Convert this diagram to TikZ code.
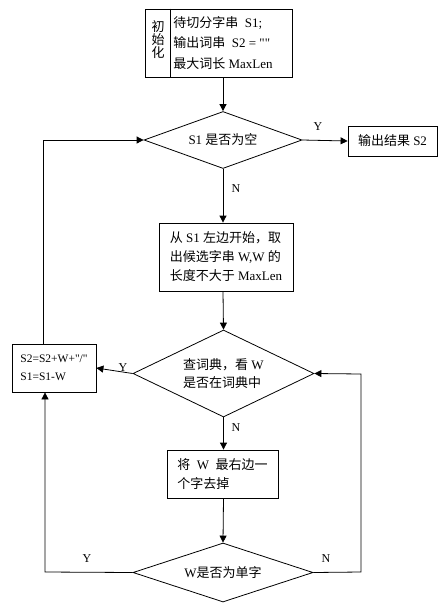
\documentclass[tikz,border=0pt]{standalone}
\usepackage{fontspec}
\setmainfont[Scale=1.0]{Liberation Serif}
\newfontfamily\cjk{Noto Sans CJK SC}
\newfontfamily\rawfont{Liberation Serif}
\usetikzlibrary{shapes.geometric,arrows.meta}
\newcommand\C[1]{{\cjk #1}}
\newcommand\dq{{\rawfont\symbol{34}}}
\begin{document}
\begin{tikzpicture}[x=1pt,y=-1pt,line width=0.8pt,
  >={Triangle[length=7pt,width=7pt]},
  box/.style={draw,rectangle,inner sep=0pt,font=\fontsize{13}{19}\selectfont,align=left},
  dia/.style={draw,diamond,inner sep=0pt,font=\fontsize{13}{18}\selectfont,align=left},
  lbl/.style={font=\fontsize{12}{14}\selectfont,inner sep=0pt}]
\useasboundingbox (0,0) rectangle (445,606);
% init box
\node[box,minimum width=147pt,minimum height=68pt] (init) at (218.5,43) {};
\draw ([xshift=26pt]init.north west) -- ([xshift=26pt]init.south west);
\node[font=\fontsize{13}{13}\selectfont,align=center,inner sep=0pt] (initl) at (158,40) {\C{初}\\\C{始}\\\C{化}};
\node[font=\fontsize{13}{20.8}\selectfont,align=left,anchor=west,inner sep=0pt] (initr) at (173,43)
  {\C{待切分字串}\ \ S1;\\\C{输出词串}\ \ S2 = \dq\dq\\\C{最大词长} MaxLen};
% decision 1
\node[dia,aspect=2.77,minimum width=158pt,minimum height=57pt] (d1) at (223,140) {S1 \C{是否为空}};
\node[box,minimum width=89pt,minimum height=30pt] (out) at (392.5,141) {\C{输出结果} S2};
% box 2
\node[box,minimum width=134pt,minimum height=68pt] (b2) at (226,257)
  {\C{从} S1 \C{左边开始，取}\\\C{出候选字串} W,W \C{的}\\\C{长度不大于} MaxLen};
% decision 2
\node[dia,aspect=2.08,minimum width=181pt,minimum height=87pt] (d2) at (223.5,373.5)
  {\C{查词典，看} W\\\C{是否在词典中}};
% left box
\node[box,minimum width=84pt,minimum height=48pt,font=\fontsize{11.5}{18}\selectfont] (lb) at (54,368)
  {S2=S2+W+\dq/\dq\\S1=S1-W};
% box 3
\node[box,minimum width=111pt,minimum height=48pt] (b3) at (222.5,474)
  {\C{将}\ \ W\ \ \C{最右边一}\\\C{个字去掉}};
% decision 3
\node[dia,aspect=3.05,minimum width=180pt,minimum height=59pt] (d3) at (223,572.5) {W\C{是否为单字}};
% helper coordinates
\coordinate (cl1) at (43,140);
\coordinate (cl2) at (45,572);
\coordinate (cr1) at (361,572);
\coordinate (cr2) at (361,374);
% connectors
\draw[->] (d1.north |- init.south) -- (d1.north);
\draw[->] (d1.east) -- (out.west);
\draw[->] (d1.south) -- (d1.south |- b2.north);
\draw[->] (d1.south |- b2.south) -- (d2.north);
\draw[->] (d2.west) -- (lb.east);
\draw[->] (d2.south) -- (d2.south |- b3.north);
\draw[->] (d2.south |- b3.south) -- (d3.north);
\draw[->] (d3.west) -- (cl2) -- (cl2 |- lb.south);
\draw[->] (d3.east) -- (cr1) -- (cr2) -- (d2.east);
\draw[->] (cl1 |- lb.north) -- (cl1) -- (d1.west);
% labels
\node[lbl] (y1) at (318,127) {Y};
\node[lbl] (n1) at (236,189) {N};
\node[lbl] (y2) at (123,368) {Y};
\node[lbl] (n2) at (236,428) {N};
\node[lbl] (y3) at (87,559) {Y};
\node[lbl] (n3) at (326,559) {N};
\end{tikzpicture}
\end{document}
